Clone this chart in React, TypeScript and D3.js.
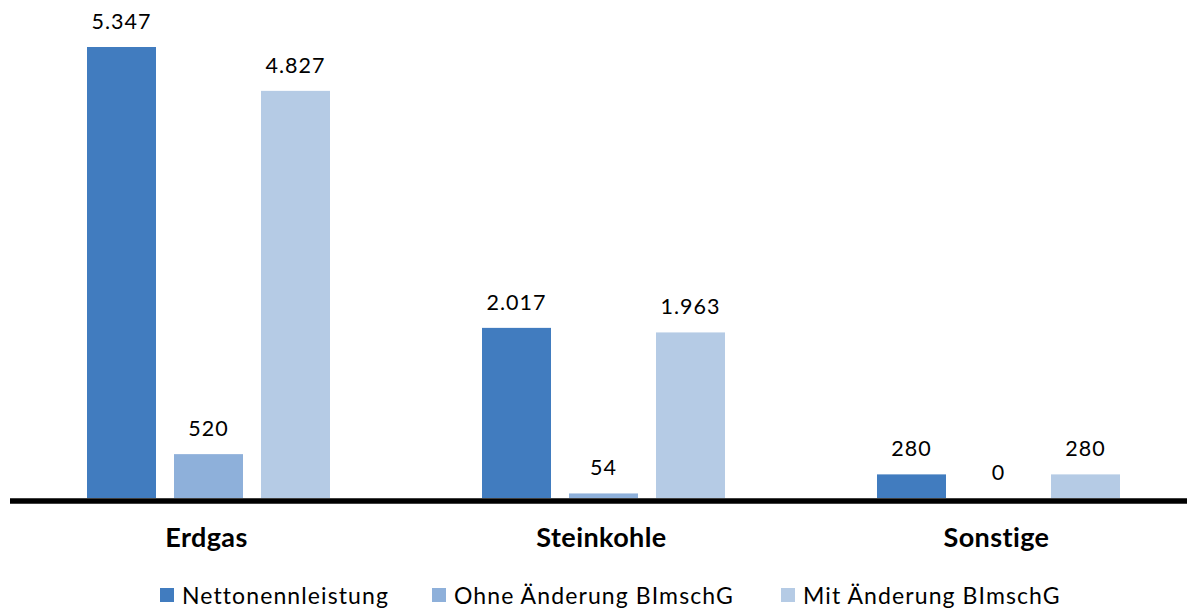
import React from "react";
import * as d3 from "d3";

const categories = ["Erdgas", "Steinkohle", "Sonstige"];
const seriesNames = ["Nettonennleistung", "Ohne Änderung BImschG", "Mit Änderung BImschG"];
const nettonennleistung = [5347, 2017, 280];
const ohneAenderung = [520, 54, 0];
const mitAenderung = [4827, 1963, 280];
const colors = ["#417CBF", "#8EB0DA", "#B5CBE5"];

const W = 1187;
const H = 610;
const FONT = "Lato, 'Open Sans', sans-serif";

export default function App() {
  const series = [nettonennleistung, ohneAenderung, mitAenderung];
  const x0 = d3.scaleBand<string>().domain(categories).range([11, 11 + 395 * 3]).paddingInner(0).paddingOuter(0);
  const x1 = d3
    .scaleBand<number>()
    .domain([0, 1, 2])
    .range([76, 76 + 243])
    .paddingInner(18 / 87)
    .paddingOuter(0);
  const y = d3.scaleLinear().domain([0, 5347]).range([498, 47]);
  const fmt = (v: number) => d3.format(",")(v).replace(/,/g, ".");

  const legendX = [160, 432, 781];

  return (
    <svg width={W} height={H} style={{ position: "absolute", left: 0, top: 0, background: "#fff" }}>
      {categories.map((c, ci) => (
        <g key={c} transform={`translate(${x0(c)},0)`}>
          {series.map((s, si) => {
            const bx = x1(si)!;
            const bw = x1.bandwidth();
            const v = s[ci];
            return (
              <g key={si}>
                {v > 0 && (
                  <rect x={bx} y={y(v)} width={bw} height={y(0) - y(v)} fill={colors[si]} />
                )}
                <text
                  x={bx + bw / 2}
                  y={y(v) - 18}
                  textAnchor="middle"
                  fontFamily={FONT}
                  fontSize={21.5}
                  letterSpacing={1}
                  fill="#000"
                >
                  {fmt(v)}
                </text>
              </g>
            );
          })}
          <text
            x={x1(1)! + x1.bandwidth() / 2 - 2}
            y={547}
            textAnchor="middle"
            fontFamily={FONT}
            fontWeight="bold"
            fontSize={27}
            letterSpacing={0.4}
            fill="#000"
          >
            {c}
          </text>
        </g>
      ))}
      <line x1={10} x2={W} y1={501} y2={501} stroke="#000" strokeWidth={5.5} />
      {seriesNames.map((n, i) => (
        <g key={n} transform={`translate(${legendX[i]},0)`}>
          <rect x={0} y={588} width={14} height={14} fill={colors[i]} />
          <text x={22} y={604} fontFamily={FONT} fontSize={23} letterSpacing={1.1} fill="#000">
            {n}
          </text>
        </g>
      ))}
    </svg>
  );
}
